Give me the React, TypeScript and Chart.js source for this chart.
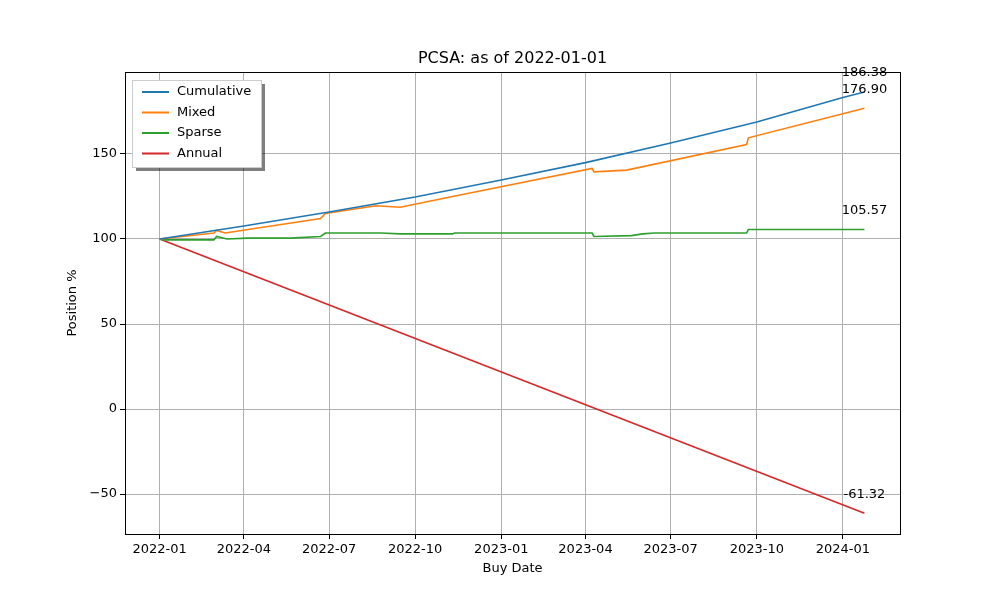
import { useEffect, useRef } from "react";
import { Chart, registerables, type Plugin } from "chart.js";

Chart.register(...registerables);

const DAY = 86400000;
const T0 = Date.UTC(2022, 0, 1);
const toDay = (s: string) => (Date.parse(s + "T00:00:00Z") - T0) / DAY;

const cumulativeDates = ["2022-01-01", "2022-04-01", "2022-07-01", "2022-10-01", "2023-01-01", "2023-04-01", "2023-07-01", "2023-10-01", "2024-01-01", "2024-01-24"];
const cumulativeValues = [100, 107.6, 115.9, 124.7, 134.7, 144.9, 156.5, 168.8, 183.2, 186.38];

const mixedDates = ["2022-01-01", "2022-02-28", "2022-03-03", "2022-03-12", "2022-06-22", "2022-06-27", "2022-08-20", "2022-09-15", "2022-11-10", "2023-04-08", "2023-04-10", "2023-05-15", "2023-09-20", "2023-09-22", "2024-01-24"];
const mixedValues = [100, 103.5, 105, 103.5, 112, 115, 119.5, 118.7, 125, 141.5, 139.5, 140.5, 155.5, 159.5, 176.9];

const sparseDates = ["2022-01-01", "2022-01-05", "2022-02-28", "2022-03-03", "2022-03-14", "2022-04-05", "2022-05-20", "2022-06-22", "2022-06-27", "2022-08-25", "2022-09-15", "2022-11-10", "2022-11-12", "2023-04-08", "2023-04-10", "2023-05-20", "2023-06-01", "2023-06-14", "2023-09-20", "2023-09-22", "2024-01-24"];
const sparseValues = [100, 99.5, 99.5, 101.5, 100, 100.5, 100.5, 101.5, 103.5, 103.5, 103, 103, 103.5, 103.5, 101.5, 102, 103, 103.5, 103.5, 105.57, 105.57];

const annualDates = ["2022-01-01", "2024-01-24"];
const annualValues = [100, -61.32];

const xTickDates = ["2022-01-01", "2022-04-01", "2022-07-01", "2022-10-01", "2023-01-01", "2023-04-01", "2023-07-01", "2023-10-01", "2024-01-01"];
const xTickLabels = ["2022-01", "2022-04", "2022-07", "2022-10", "2023-01", "2023-04", "2023-07", "2023-10", "2024-01"];
const yTicks = [-50, 0, 50, 100, 150];

const SERIES = [
  { label: "Cumulative", dates: cumulativeDates, values: cumulativeValues, color: "#1f77b4" },
  { label: "Mixed", dates: mixedDates, values: mixedValues, color: "#ff7f0e" },
  { label: "Sparse", dates: sparseDates, values: sparseValues, color: "#2ca02c" },
  { label: "Annual", dates: annualDates, values: annualValues, color: "#d62728" },
];

const FONT = "DejaVu Sans";

export default function App() {
  const canvasRef = useRef<HTMLCanvasElement>(null);

  useEffect(() => {
    if (!canvasRef.current) return;
    document.body.style.margin = "0";

    const extras: Plugin<"line"> = {
      id: "extras",
      afterDraw(chart) {
        const { ctx, chartArea, scales } = chart;
        ctx.save();
        // frame
        ctx.strokeStyle = "#000";
        ctx.lineWidth = 1;
        ctx.strokeRect(chartArea.left + 0.5, chartArea.top + 0.5, chartArea.right - chartArea.left, chartArea.bottom - chartArea.top);

        ctx.fillStyle = "#000";
        ctx.font = `16px ${FONT}`;
        ctx.textAlign = "center";
        ctx.textBaseline = "bottom";
        const cx = (chartArea.left + chartArea.right) / 2;
        ctx.fillText("PCSA: as of 2022-01-01", cx, chartArea.top - 5);

        ctx.font = `13px ${FONT}`;
        ctx.textBaseline = "middle";
        ctx.fillText("Buy Date", cx, chartArea.bottom + 35);
        ctx.save();
        ctx.translate(73, (chartArea.top + chartArea.bottom) / 2);
        ctx.rotate(-Math.PI / 2);
        ctx.fillText("Position %", 0, 0);
        ctx.restore();

        // end-value labels
        for (const s of SERIES) {
          const n = s.values.length - 1;
          const x = scales.x.getPixelForValue(toDay(s.dates[n]));
          const y = scales.y.getPixelForValue(s.values[n]);
          ctx.fillText(s.values[n].toFixed(2), x, y - 19);
        }

        // legend
        const lx = chartArea.left + 7, ly = chartArea.top + 8, lw = 129, lh = 87;
        ctx.fillStyle = "rgba(0,0,0,0.5)";
        ctx.fillRect(lx + 4, ly + 4, lw, lh);
        ctx.fillStyle = "#fff";
        ctx.fillRect(lx, ly, lw, lh);
        ctx.strokeStyle = "#ccc";
        ctx.strokeRect(lx + 0.5, ly + 0.5, lw, lh);
        ctx.textAlign = "left";
        SERIES.forEach((s, i) => {
          const yy = ly + 12 + i * 20.5;
          ctx.strokeStyle = s.color;
          ctx.lineWidth = 2;
          ctx.beginPath();
          ctx.moveTo(lx + 10, yy);
          ctx.lineTo(lx + 37, yy);
          ctx.stroke();
          ctx.fillStyle = "#000";
          ctx.fillText(s.label, lx + 45, yy);
        });
        ctx.restore();
      },
    };

    const tickFont = { family: FONT, size: 13 };
    const chart = new Chart(canvasRef.current, {
      type: "line",
      data: {
        datasets: SERIES.map(s => ({
          label: s.label,
          data: s.dates.map((d, i) => ({ x: toDay(d), y: s.values[i] })),
          borderColor: s.color,
          borderWidth: 1.6,
          pointRadius: 0,
          tension: 0,
        })),
      },
      options: {
        responsive: false,
        animation: false,
        layout: { padding: { top: 72, right: 100, left: 0, bottom: 0 } },
        scales: {
          x: {
            type: "linear",
            min: -37,
            max: 730 + 61,
            afterFit: (a: any) => { a.height = 66; },
            afterBuildTicks: (a: any) => { a.ticks = xTickDates.map(d => ({ value: toDay(d) })); },
            grid: { color: "#b0b0b0", tickLength: 5, tickColor: "#000" },
            border: { color: "#000" },
            ticks: {
              color: "#000",
              font: tickFont,
              maxRotation: 0,
              callback: (v: any) => xTickLabels[xTickDates.findIndex(d => toDay(d) === v)] ?? "",
            },
          },
          y: {
            min: -73.5,
            max: 198.2,
            afterFit: (a: any) => { a.width = 125; },
            afterBuildTicks: (a: any) => { a.ticks = yTicks.map(v => ({ value: v })); },
            grid: { color: "#b0b0b0", tickLength: 5, tickColor: "#000" },
            border: { color: "#000" },
            ticks: {
              color: "#000",
              font: tickFont,
              callback: (v: any) => (Number(v) < 0 ? "\u2212" + Math.abs(Number(v)) : String(v)),
            },
          },
        },
        plugins: { legend: { display: false }, tooltip: { enabled: false } },
      },
      plugins: [extras],
    });
    return () => chart.destroy();
  }, []);

  return <canvas ref={canvasRef} width={1000} height={600} style={{ display: "block" }} />;
}
